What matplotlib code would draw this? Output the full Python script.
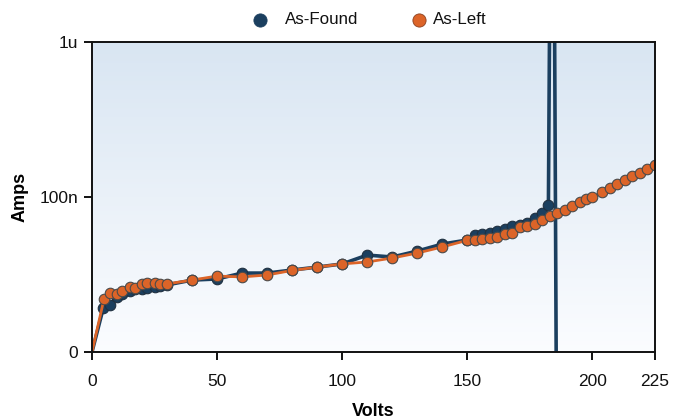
import numpy as np
import matplotlib
matplotlib.use("Agg")
import matplotlib.pyplot as plt
from matplotlib.lines import Line2D

plt.rcParams['font.family'] = ['Liberation Sans', 'DejaVu Sans']

# As-Found data (Volts, Amps)
found_volts = [0, 4.5, 7, 10, 12, 15, 17, 20, 22, 25, 27, 30, 40, 50, 60, 70, 80, 90,
               100, 110, 120, 130, 140, 150, 153, 156, 159, 162, 165, 168, 171, 174,
               177, 180, 182.4, 184, 185.5]
found_amps_n = [0, 19.2, 20.1, 22.6, 23.7, 24.7, 25.5, 25.5, 25.9, 26.3, 26.7, 27.1, 29.1,
                29.6, 32.3, 32.3, 33.8, 35.3, 37.0, 42.2, 41.0, 44.8, 49.7, 52.8, 56.9,
                57.7, 58.8, 60.6, 62.2, 65.3, 66.0, 68.0, 73.1, 79.1, 88.8, 1e6, 0]

# As-Left data (Volts, Amps)
left_volts = [0, 4.8, 7, 10, 12, 15, 17, 20, 22, 25, 27, 30, 40, 50, 60, 70, 80, 90,
              100, 110, 120, 130, 140, 150, 153, 156, 159, 162, 165, 168, 171, 174,
              177, 180, 183, 186, 189, 192, 195, 197.5, 200, 204, 207, 210, 213, 216,
              219, 222, 225]
left_amps_n = [0, 22.0, 24.0, 23.7, 24.7, 26.3, 25.9, 27.5, 27.9, 27.9, 27.5, 27.5, 29.1,
               30.9, 30.5, 31.4, 33.6, 35.3, 37.0, 38.1, 40.4, 43.5, 47.6, 52.6, 52.8,
               53.3, 54.1, 55.5, 57.7, 58.8, 64.0, 65.0, 67.3, 71.1, 75.4, 79.1, 82.3,
               87.5, 92.9, 96.7, 99.3, 108, 114, 121, 129, 137, 143, 152, 161]

series_names = ["As-Found", "As-Left"]
x_ticks = [0, 50, 100, 150, 200, 225]
y_ticks = [0, 1e-7, 1e-6]
y_tick_labels = ["0", "100n", "1u"]

found_amps = np.array(found_amps_n) * 1e-9
left_amps = np.array(left_amps_n) * 1e-9
found_volts = np.array(found_volts)
left_volts = np.array(left_volts)

FLOOR = 1e-8


def fwd(y):
    return np.log10(np.maximum(np.asarray(y, dtype=float), FLOOR))


def inv(y):
    return 10.0 ** np.asarray(y, dtype=float)


fig = plt.figure(figsize=(6.83, 4.2), dpi=100)
ax_l, ax_r = 92 / 683, 655 / 683
ax = fig.add_axes([ax_l, 68 / 420, ax_r - ax_l, (352 - 42) / 420])
ax.set_yscale('function', functions=(fwd, inv))

# gradient background
grad = np.linspace(0, 1, 256).reshape(-1, 1)
top = np.array([0.85, 0.90, 0.95])
bot = np.array([0.985, 0.99, 1.0])
img = top[None, None, :] * (1 - grad[:, :, None]) + bot[None, None, :] * grad[:, :, None]
ax.imshow(img, extent=(0, 1, 0, 1), transform=ax.transAxes, aspect='auto', zorder=0)

navy = '#1b3f5f'
orange = '#dc6428'
edge = '#4a4a4a'

ax.plot(found_volts, found_amps, color=navy, lw=2.6, zorder=2, solid_joinstyle='round')
mf = found_amps > 0
ax.plot(found_volts[mf], found_amps[mf], ls='none', marker='o', ms=7.6,
        mfc=navy, mec='#203040', mew=0.8, zorder=3)

ax.plot(left_volts, left_amps, color=orange, lw=2.0, zorder=4, solid_joinstyle='round')
ml = left_amps > 0
ax.plot(left_volts[ml], left_amps[ml], ls='none', marker='o', ms=7.6,
        mfc=orange, mec=edge, mew=0.8, zorder=5)

ax.set_xlim(0, 225)
ax.set_ylim(0, 1e-6)
ax.set_xticks(x_ticks)
ax.set_yticks(y_ticks)
ax.set_yticklabels(y_tick_labels)
ax.yaxis.set_minor_locator(matplotlib.ticker.NullLocator())

for s in ax.spines.values():
    s.set_color('#111111')
    s.set_linewidth(1.4)
    s.set_zorder(6)

ax.tick_params(axis='both', length=6, width=1.4, color='#111111',
               labelsize=12.5, labelcolor='#111111', pad=4)
ax.tick_params(axis='x', pad=10)

ax.set_xlabel('Volts', fontsize=13, fontweight='bold', labelpad=10)
ax.set_ylabel('Amps', fontsize=13, fontweight='bold', labelpad=8)

# legend at top (custom-placed entries)
ly = 1 - 20 / 420
legend_items = [(series_names[0], navy, navy, 260, 285),
                (series_names[1], orange, '#8a4020', 419, 433)]
for name, fc, ec, mx, tx in legend_items:
    fig.add_artist(Line2D([mx / 683], [ly], transform=fig.transFigure, ls='none',
                          marker='o', ms=9.5, mfc=fc, mec=ec, mew=0.6))
    fig.text(tx / 683, ly, name, ha='left', va='center', fontsize=12.2, color='#111111')

fig.savefig('out.png', dpi=100)
